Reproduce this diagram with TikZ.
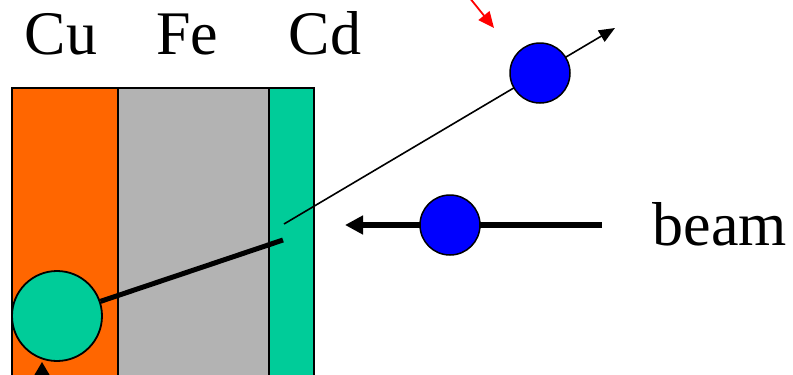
\documentclass[tikz,border=0pt]{standalone}
\usepackage{fontspec}
\setmainfont{Liberation Serif}
\usetikzlibrary{arrows.meta}
\definecolor{cuorange}{HTML}{FF6600}
\definecolor{fegrey}{HTML}{B3B3B3}
\definecolor{cdgreen}{HTML}{00CC99}
\definecolor{ballblue}{HTML}{0000FF}
\tikzset{
  layer/.style={draw=black, line width=1.5pt},
  lbl/.style={inner sep=0pt, anchor=base, font=\fontsize{62}{70}\selectfont},
  ball/.style={circle, draw=black, line width=1.5pt, fill=ballblue, minimum size=60pt, inner sep=0pt},
  ion/.style={circle, draw=black, line width=1.8pt, fill=cdgreen, minimum size=90pt, inner sep=0pt},
  thin/.style={draw=black, line width=1.6pt, -{Triangle[length=16pt,width=13pt]}},
  thick/.style={draw=black, line width=5pt},
  beamarrow/.style={draw=black, line width=5.5pt, -{Triangle[length=18pt,width=18pt]}},
}
\begin{document}
\begin{tikzpicture}[x=1pt,y=-1pt]
\useasboundingbox (0,0) rectangle (793,375);
\clip (0,0) rectangle (793,375);
% layers
\path[layer, fill=cuorange] (12,88) rectangle (118,390);
\path[layer, fill=fegrey] (118,88) rectangle (269,390);
\path[layer, fill=cdgreen] (269,88) rectangle (314,390);
% labels
\node[lbl] (cu) at (61,54) {Cu};
\node[lbl] (fe) at (187.5,54) {Fe};
\node[lbl] (cd) at (325,54) {Cd};
\node[lbl] (beam) at (720,245) {beam};
% coordinates
\coordinate (hit) at (283,240);
\coordinate (start) at (284,224);
\coordinate (out) at (615,28);
\coordinate (beamstart) at (602,225);
\coordinate (beamtip) at (345,225);
\coordinate (redstart) at (469,-3);
\coordinate (redtip) at (494,28);
\coordinate (upstart) at (42,395);
\coordinate (uptip) at (42,362);
% connectors
\draw[thin] (start) -- (out);
\draw[beamarrow] (beamstart) -- (beamtip);
\draw[red, line width=1.8pt, -{Triangle[length=16pt,width=14pt]}] (redstart) -- (redtip);
% balls
\node[ball] (scat) at (540,73) {};
\node[ball] (inc) at (450,225) {};
\node[ion] (ion) at (57,316) {};
\draw[thick] (ion) -- (hit);
\draw[black, line width=1.8pt, -{Triangle[length=14pt,width=16pt]}] (upstart) -- (uptip);
\end{tikzpicture}
\end{document}
